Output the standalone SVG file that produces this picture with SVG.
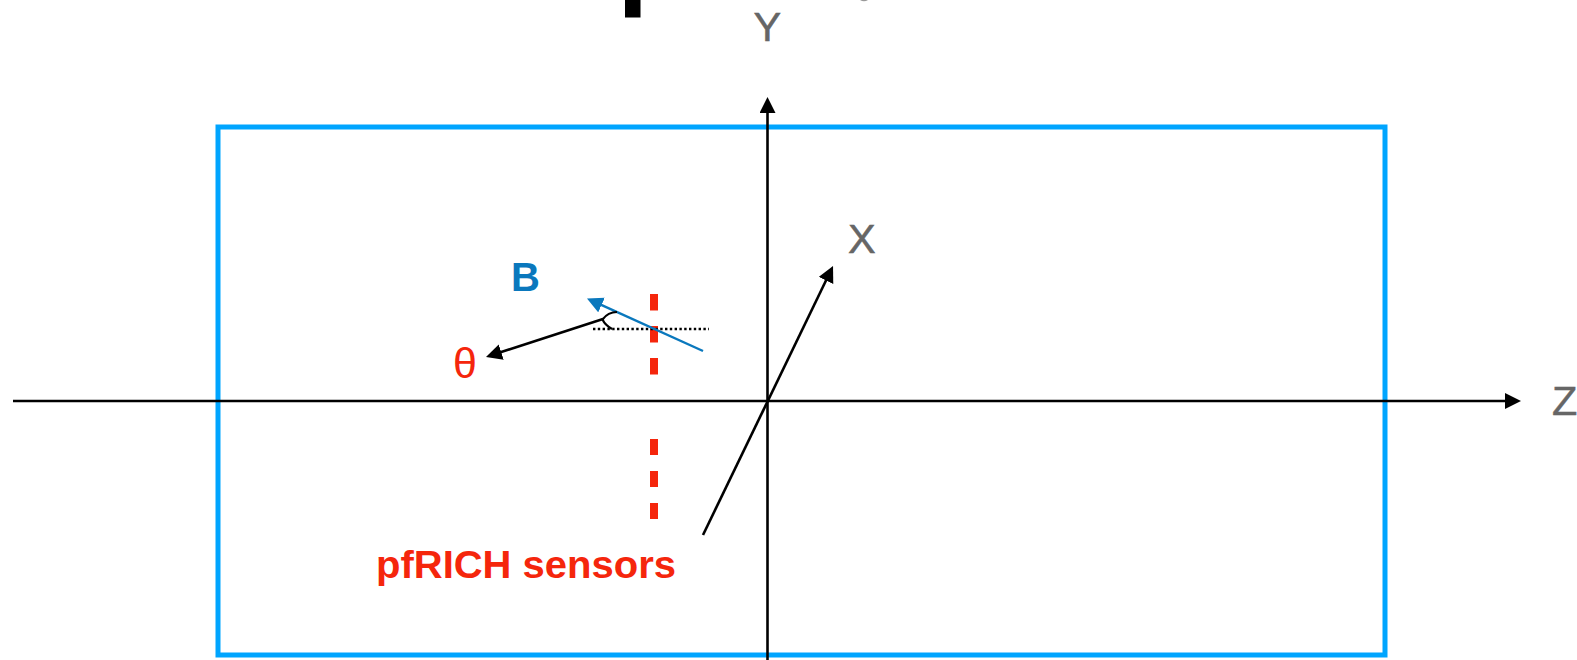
<svg xmlns="http://www.w3.org/2000/svg" width="1577" height="660" viewBox="0 0 1577 660">
<style>
.axis{stroke:#000;stroke-width:2.6;fill:none}
.lbl{font-family:"Liberation Sans",Arial,sans-serif;font-size:41.500px;fill:#666;stroke:#666;stroke-width:.5}
.red{font-family:"Liberation Sans",Arial,sans-serif;fill:#f5260c}
.dash{fill:#f5260c}
</style>
<defs>
<marker id="ak" markerUnits="userSpaceOnUse" markerWidth="18" markerHeight="18" refX="4" refY="8" orient="auto"><path d="M0 0L16 8L0 16Z" fill="#000"/></marker>
<marker id="ab" markerUnits="userSpaceOnUse" markerWidth="18" markerHeight="18" refX="4" refY="8" orient="auto"><path d="M0 0L16 8L0 16Z" fill="#0a78bd"/></marker>
</defs>
<rect width="1577" height="660" fill="#fff"/>
<rect id="frame" x="218" y="127" width="1167" height="528" fill="none" stroke="#00a5ff" stroke-width="5"/>
<rect id="top-mark" x="625" y="0" width="15.500" height="17.500" fill="#000"/>
<path id="top-arc" d="M860 0Q864 2.500 868 0Z" fill="#999"/>
<g id="sensors">
<rect class="dash" x="650" y="294" width="8" height="16.500"/>
<rect class="dash" x="650" y="326" width="8" height="16.500"/>
<rect class="dash" x="650" y="358" width="8" height="16.500"/>
<rect class="dash" x="650" y="439" width="8" height="16"/>
<rect class="dash" x="650" y="471" width="8" height="16"/>
<rect class="dash" x="650" y="503" width="8" height="16"/>
</g>
<g id="connectors">
<line class="axis" x1="13" y1="401" x2="1509" y2="401" marker-end="url(#ak)"/>
<line class="axis" x1="767.500" y1="660" x2="767.500" y2="109" marker-end="url(#ak)"/>
<line class="axis" x1="703" y1="535" x2="827.800" y2="276.800" marker-end="url(#ak)"/>
<line x1="593" y1="329" x2="709" y2="329" stroke="#000" stroke-width="2.400" stroke-dasharray="2.400 2.400"/>
<line x1="703" y1="351" x2="597.900" y2="303.400" stroke="#0a78bd" stroke-width="2.400" marker-end="url(#ab)"/>
<line class="axis" x1="603" y1="319" x2="497.400" y2="353.300" marker-end="url(#ak)"/>
<path d="M617 312Q608 312 602.500 319.500Q605 325 612 329" fill="none" stroke="#000" stroke-width="2.200"/>
</g>
<g id="labels">
<text id="label-y" class="lbl" x="753.500" y="41">Y</text>
<text id="label-x" class="lbl" x="848" y="253">X</text>
<text id="label-z" class="lbl" x="1552" y="415">Z</text>
<text id="label-b" x="511" y="291" font-family="'Liberation Sans',Arial,sans-serif" font-size="40" font-weight="700" fill="#0a78bd">B</text>
<text id="label-theta" class="red" x="453" y="378" font-size="43">θ</text>
<text id="label-sensors" class="red" x="376" y="578" font-size="38" font-weight="700" textLength="300" lengthAdjust="spacingAndGlyphs">pfRICH sensors</text>
</g>
</svg>
